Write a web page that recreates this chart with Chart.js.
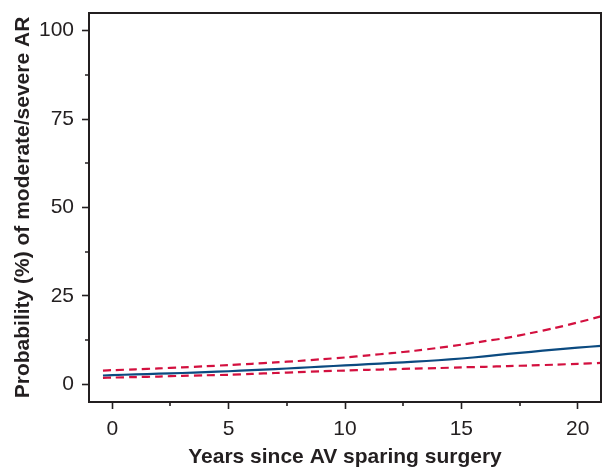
<!DOCTYPE html>
<html>
<head>
<meta charset="utf-8">
<script src="https://cdn.jsdelivr.net/npm/chart.js@4/dist/chart.umd.min.js"></script>
<style>
html,body{margin:0;padding:0;background:#fff;}
#wrap{width:602px;height:470px;}
</style>
</head>
<body>
<div id="wrap"><canvas id="c" width="602" height="470"></canvas></div>
<script>
// Data
const years = [-0.4, 0, 1, 2, 3, 4, 5, 6, 7, 8, 9, 10, 11, 12, 13, 14, 15, 16, 17, 18, 19, 20, 21];
const estimate = [2.5, 2.6, 2.8, 3.0, 3.2, 3.45, 3.7, 4.0, 4.3, 4.65, 5.0, 5.35, 5.7, 6.05, 6.4, 6.8, 7.3, 7.9, 8.6, 9.2, 9.8, 10.35, 10.9];
const upperCI = [3.9, 4.0, 4.25, 4.5, 4.8, 5.1, 5.45, 5.8, 6.2, 6.6, 7.1, 7.6, 8.2, 8.8, 9.5, 10.3, 11.2, 12.2, 13.2, 14.5, 15.9, 17.5, 19.2];
const lowerCI = [1.8, 1.9, 2.05, 2.2, 2.4, 2.55, 2.7, 2.95, 3.2, 3.45, 3.7, 3.9, 4.1, 4.25, 4.45, 4.6, 4.8, 4.95, 5.15, 5.35, 5.55, 5.8, 6.05];
const xTicks = [0, 5, 10, 15, 20];
const xMinorTicks = [2.5, 7.5, 12.5, 17.5];
const yTicks = [0, 25, 50, 75, 100];
const yMinorTicks = [12.5, 37.5, 62.5, 87.5];

const AXIS = '#231f20';
const FONT = '"Liberation Sans", Arial, Helvetica, sans-serif';

const pts = arr => years.map((x, i) => ({x: x, y: arr[i]}));

const frame = {
  id: 'frame',
  afterDraw(chart) {
    const {ctx, chartArea: a, scales} = chart;
    ctx.save();
    ctx.strokeStyle = AXIS;
    ctx.lineWidth = 2;
    ctx.beginPath();
    ctx.moveTo(a.left - 1, a.top);
    ctx.lineTo(a.right, a.top);
    ctx.lineTo(a.right, a.bottom);
    ctx.stroke();
    ctx.lineWidth = 1.6;
    ctx.beginPath();
    xMinorTicks.forEach(v => {
      const px = Math.round(scales.x.getPixelForValue(v));
      ctx.moveTo(px, a.bottom);
      ctx.lineTo(px, a.bottom + 4);
    });
    yMinorTicks.forEach(v => {
      const py = Math.round(scales.y.getPixelForValue(v));
      ctx.moveTo(a.left, py);
      ctx.lineTo(a.left - 4, py);
    });
    ctx.stroke();
    ctx.restore();
  }
};

new Chart(document.getElementById('c'), {
  type: 'line',
  data: {
    datasets: [
      {data: pts(upperCI), borderColor: '#d3103f', borderWidth: 2.2, borderDash: [8, 5], pointRadius: 0, tension: 0.3, fill: false},
      {data: pts(lowerCI), borderColor: '#d3103f', borderWidth: 2.2, borderDash: [8, 5], pointRadius: 0, tension: 0.3, fill: false},
      {data: pts(estimate), borderColor: '#0b4a80', borderWidth: 2.2, pointRadius: 0, tension: 0.3, fill: false}
    ]
  },
  options: {
    responsive: false,
    animation: false,
    devicePixelRatio: 1,
    layout: {padding: {left: 0, top: 13, right: 1, bottom: 0}},
    plugins: {legend: {display: false}, tooltip: {enabled: false}},
    scales: {
      x: {
        type: 'linear',
        min: -1,
        max: 21,
        afterBuildTicks: s => { s.ticks = xTicks.map(v => ({value: v})); },
        afterFit: s => { s.height = 68; s.paddingLeft = 0; s.paddingRight = 0; },
        grid: {drawOnChartArea: false, tickLength: 7, tickColor: AXIS, tickWidth: 1.6},
        border: {display: true, color: AXIS, width: 2},
        ticks: {color: AXIS, font: {family: FONT, size: 21}, padding: 8, maxRotation: 0},
        title: {display: true, text: 'Years since AV sparing surgery', color: AXIS,
                font: {family: FONT, size: 21, weight: 'bold'}, padding: {top: 0, bottom: 0}}
      },
      y: {
        type: 'linear',
        min: -5,
        max: 105,
        afterBuildTicks: s => { s.ticks = yTicks.map(v => ({value: v})); },
        afterFit: s => { s.width = 89; s.paddingTop = 0; s.paddingBottom = 0; },
        grid: {drawOnChartArea: false, tickLength: 7, tickColor: AXIS, tickWidth: 1.6},
        border: {display: true, color: AXIS, width: 2},
        ticks: {color: AXIS, font: {family: FONT, size: 21}, padding: 8},
        title: {display: true, text: 'Probability (%) of moderate/severe AR', color: AXIS,
                font: {family: FONT, size: 21, weight: 'bold'}, padding: {top: 11, bottom: 0}}
      }
    }
  },
  plugins: [frame]
});
</script>
</body>
</html>
